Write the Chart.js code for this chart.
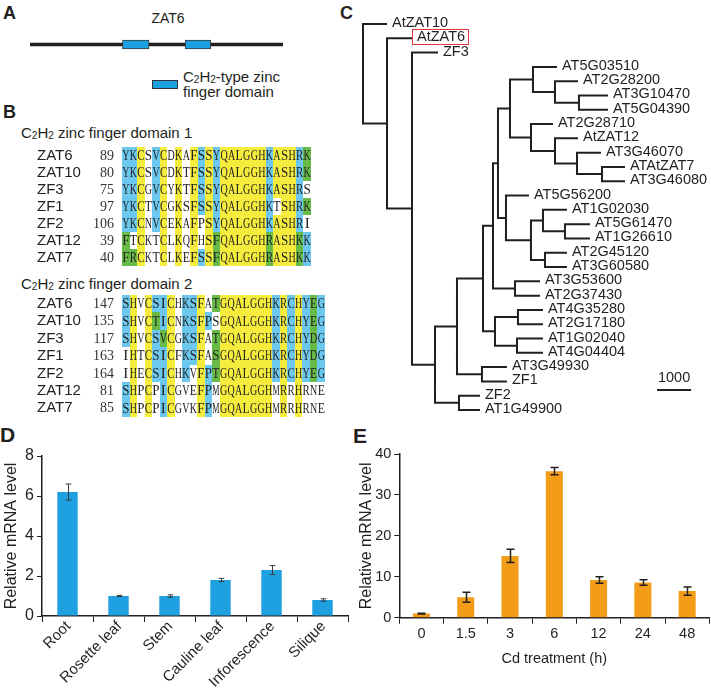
<!DOCTYPE html>
<html><head><meta charset="utf-8">
<script src="https://cdn.jsdelivr.net/npm/chart.js@4.4.0/dist/chart.umd.min.js"></script>
<style>
html,body{margin:0;padding:0;background:#fff}
body{width:711px;height:688px;position:relative;overflow:hidden;font-family:"Liberation Sans",Arial,sans-serif;color:#231f20}
canvas{position:absolute}
.t{position:absolute;line-height:1;white-space:nowrap}
.pl{position:absolute;line-height:1;font-weight:bold}
.s{font-size:10px;vertical-align:-1px}
</style></head><body>
<div class="pl" style="left:3px;top:4px;font-size:18px">A</div>
<div class="pl" style="left:3px;top:103px;font-size:18px">B</div>
<div class="pl" style="left:340px;top:4px;font-size:18px">C</div>
<div class="pl" style="left:0px;top:424px;font-size:21px">D</div>
<div class="pl" style="left:353px;top:425px;font-size:21px">E</div>

<div class="t" id="protName" style="left:130px;width:76px;text-align:center;top:11px;font-size:14px"></div>
<div class="t" style="left:152px;top:80px;width:24px;height:7px;background:#1ba1e2;border:1px solid #333"></div>
<div class="t" style="left:183px;top:69px;font-size:15px">C<span class="s">2</span>H<span class="s">2</span>-type zinc</div>
<div class="t" style="left:183px;top:84px;font-size:15px">finger domain</div>
<div class="t" style="left:21px;top:125px;font-size:15px">C<span class="s">2</span>H<span class="s">2</span> zinc finger domain 1</div>
<div class="t" style="left:21px;top:276px;font-size:15px">C<span class="s">2</span>H<span class="s">2</span> zinc finger domain 2</div>

<canvas id="cA" width="340" height="100" style="left:0;top:0"></canvas>
<canvas id="cB1" width="340" height="132" style="left:0;top:140px"></canvas>
<canvas id="cB2" width="340" height="135" style="left:0;top:288px"></canvas>
<canvas id="cC" width="371" height="430" style="left:340px;top:0"></canvas>
<canvas id="cD" width="355" height="248" style="left:0;top:440px"></canvas>
<canvas id="cE" width="356" height="248" style="left:355px;top:440px"></canvas>

<script>
// ---------------- DATA ----------------
// Panel A
const proteinName = 'ZAT6';
const proteinLength = 238;
const domainRanges = [[87, 112], [146, 170]];

// Panel B
const alignNames = ['ZAT6', 'ZAT10', 'ZF3', 'ZF1', 'ZF2', 'ZAT12', 'ZAT7'];
const domain1Start = [89, 80, 75, 97, 106, 39, 40];
const domain1Seq = [
  'YKCSVCDKAFSSYQALGGHKASHRK',
  'YKCSVCDKTFSSYQALGGHKASHRK',
  'YKCGVCYKTFSSYQALGGHKASHRS',
  'YKCTVCGKSFSSYQALGGHKTSHRK',
  'YKCNVCEKAFPSYQALGGHKASHRI',
  'FTCKTCLKQFHSFQALGGHRASHKK',
  'FRCKTCLKEFSSFQALGGHRASHKK'
];
const domain1Shade = [
  'bby.by.y.ybybyyyyyybyyybg',
  'bby.by.y.ybybyyyyyybyyybg',
  'bby.by.y.ybybyyyyyybyyyb.',
  'bby.by.y.ybybyyyyyyb.yybg',
  'bby.by.y.y.ybyyyyyybyyyb.',
  'g.y..y.y.y.ygyyyyyygyyygb',
  'ggy..y.y.ybygyyyyyygyyygb'
];
const domain2Start = [147, 135, 117, 163, 164, 81, 85];
const domain2Seq = [
  'SHVCSICHKSFATGQALGGHKRCHYEG',
  'SHVCTICNKSFPSGQALGGHKRCHYEG',
  'SHVCSVCGKSFATGQALGGHKRCHYDG',
  'IHTCSICFKSFASGQALGGHKRCHYDG',
  'IHECSICHKVFPTGQALGGHKRCHYEG',
  'SHPCPICGVEFPMGQALGGHMRRHRNE',
  'SHPCPICGVKFPMGQALGGHMRRHRNE'
];
const domain2Shade = [
  'by.ybby.bby.gyyyyyyybybybgb',
  'by.ygby.bbyb.yyyyyyybybybgb',
  'by.ybgy.bby.gyyyyyyybybybgb',
  '.y.ybby.bby.gyyyyyyybybybgb',
  '.y.ybby.b.ybgyyyyyyybybybgb',
  'by.y.by...yb.yyyyyyy.y.y...',
  'by.y.by...yb.yyyyyyy.y.y...'
];

// Panel C: tree as [payload, branchLength]; payload = leaf name or [child, child]
const treeData = [[
  ['AtZAT10', 706],
  [[
    ['AtZAT6', 735],
    [[
      ['ZF3', 765],
      [[
        [[
          [[
            [[
              [[
                [[
                  [[ ['AT5G03510', 706], [[ ['AT2G28200', 676], [[ ['AT3G10470', 853], ['AT5G04390', 853] ], 706] ], 647] ], 676],
                  [[ ['AT2G28710', 647], [[ ['AtZAT12', 676], [[ ['AT3G46070', 706], [[ ['ATAtZAT7', 676], ['AT3G46080', 676] ], 735] ], 647] ], 706] ], 618]
                ], 353],
                [[ ['AT5G56200', 676], [[ [[ ['AT1G02030', 706], [[ ['AT5G61470', 735], ['AT1G26610', 735] ], 647] ], 353], [[ ['AT2G45120', 647], ['AT3G60580', 647] ], 412] ], 735] ], 235]
              ], 147],
              [[ ['AT3G53600', 735], ['AT2G37430', 735] ], 647]
            ], 294],
            [[ [[ ['AT4G35280', 735], ['AT2G17180', 735] ], 676], [[ ['AT1G02040', 765], ['AT4G04404', 765] ], 647] ], 353]
          ], 765],
          [[ ['AT3G49930', 735], ['ZF1', 735] ], 735]
        ], 647],
        [[ ['ZF2', 618], ['AT1G49900', 618] ], 706]
      ], 676]
    ], 735]
  ], 706]
], 0];
const highlightedLeaf = 'AtZAT6';
const scaleBarLength = 1000;
const scaleBarLabel = '1000';

// Panel D
const tissueLabels = ['Root', 'Rosette leaf', 'Stem', 'Cauline leaf', 'Inforescence', 'Silique'];
const tissueMeans = [6.2, 1.0, 1.0, 1.8, 2.3, 0.8];
const tissueErrors = [0.4, 0.03, 0.06, 0.08, 0.22, 0.06];
const tissueTicks = [0, 2, 4, 6, 8];

// Panel E
const cdTimes = ['0', '1.5', '3', '6', '12', '24', '48'];
const cdMeans = [1.0, 5.0, 15.1, 35.8, 9.2, 8.6, 6.5];
const cdErrors = [0.1, 1.2, 1.6, 0.9, 0.8, 0.65, 1.0];
const cdTicks = [0, 10, 20, 30, 40];

// ---------------- STYLE / SETUP ----------------
const INK = '#231f20';
const FONT = '"Liberation Sans", Arial, sans-serif';
Chart.defaults.font.family = FONT;
Chart.defaults.color = INK;
Chart.defaults.animation = false;
Chart.defaults.plugins.legend.display = false;
Chart.defaults.plugins.tooltip.enabled = false;
const base = {responsive: false, devicePixelRatio: 1, animation: false, events: []};

document.getElementById('protName').textContent = proteinName;

// ---- Panel A ----
new Chart(document.getElementById('cA'), {
  type: 'bar',
  data: {
    labels: [proteinName],
    datasets: [
      {data: [domainRanges[0]], backgroundColor: '#1ba1e2', borderColor: '#3a3a3a', borderWidth: 1, borderSkipped: false, barThickness: 9, grouped: false, order: 0},
      {data: [domainRanges[1]], backgroundColor: '#1ba1e2', borderColor: '#3a3a3a', borderWidth: 1, borderSkipped: false, barThickness: 9, grouped: false, order: 0},
      {data: [[0, proteinLength]], backgroundColor: INK, borderWidth: 0, barThickness: 2.6, grouped: false, order: 1}
    ]
  },
  options: Object.assign({}, base, {
    indexAxis: 'y',
    layout: {padding: {left: 30, right: 57, top: 35, bottom: 46}},
    scales: {x: {display: false, min: 0, max: proteinLength}, y: {display: false}}
  })
});

// ---- Panel B ----
const SHADE = {b: '#6cc8ee', y: '#f5ec3e', g: '#69bb47'};
function alignChart(id, seqs, shades, starts, pad) {
  const nCols = seqs[0].length;
  return new Chart(document.getElementById(id), {
    type: 'scatter',
    data: {datasets: [{data: []}]},
    options: Object.assign({}, base, {
      layout: {padding: pad},
      scales: {
        x: {display: false, min: -0.5, max: nCols - 0.5},
        y: {display: false, min: -0.5, max: seqs.length - 0.5, reverse: true}
      }
    }),
    plugins: [{
      id: 'alignment',
      afterDatasetsDraw(chart) {
        const ctx = chart.ctx, xs = chart.scales.x, ys = chart.scales.y;
        ctx.save();
        seqs.forEach((seq, r) => {
          const y0 = Math.round(ys.getPixelForValue(r - 0.5)), y1 = Math.round(ys.getPixelForValue(r + 0.5));
          for (let c = 0; c < seq.length; c++) {
            const col = SHADE[shades[r][c]];
            if (!col) continue;
            const x0 = Math.round(xs.getPixelForValue(c - 0.5)), x1 = Math.round(xs.getPixelForValue(c + 0.5));
            ctx.fillStyle = col;
            ctx.fillRect(x0, y0, x1 - x0, y1 - y0);
          }
        });
        ctx.fillStyle = '#222';
        ctx.textBaseline = 'middle';
        ctx.textAlign = 'center';
        ctx.font = '15px "Liberation Serif", "Times New Roman", serif';
        const cw = xs.getPixelForValue(1) - xs.getPixelForValue(0);
        seqs.forEach((seq, r) => {
          const y = ys.getPixelForValue(r) + 0.5;
          for (let c = 0; c < seq.length; c++) {
            const ch = seq[c];
            const w = ctx.measureText(ch).width;
            const sx = Math.min(1, (cw - 0.3) / w);
            ctx.save();
            ctx.translate(xs.getPixelForValue(c), y);
            ctx.scale(sx, 1);
            ctx.fillText(ch, 0, 0);
            ctx.restore();
          }
        });
        ctx.fillStyle = INK;
        ctx.textAlign = 'left';
        ctx.font = '15px ' + FONT;
        alignNames.forEach((n, r) => ctx.fillText(n, 37, ys.getPixelForValue(r)));
        ctx.textAlign = 'right';
        ctx.font = '14px "Liberation Serif", "Times New Roman", serif';
        ctx.fillStyle = '#333';
        starts.forEach((s, r) => ctx.fillText(String(s), 114, ys.getPixelForValue(r) + 0.5));
        ctx.restore();
      }
    }]
  });
}
alignChart('cB1', domain1Seq, domain1Shade, domain1Start, {left: 122, right: 29, top: 7, bottom: 6});
alignChart('cB2', domain2Seq, domain2Shade, domain2Start, {left: 122, right: 15, top: 7, bottom: 6});

// ---- Panel C (tree) ----
const leaves = [];
function layout(node, depth) {
  const payload = node[0];
  const x = depth + node[1];
  if (typeof payload === 'string') {
    const leaf = {name: payload, x: x, y: leaves.length, leaf: true};
    leaves.push(leaf);
    return leaf;
  }
  const kids = payload.map(k => layout(k, x));
  return {x: x, y: (kids[0].y + kids[kids.length - 1].y) / 2, kids: kids};
}
const treeRoot = layout(treeData, 0);
const branchPts = [];
(function walk(n) {
  if (!n.kids) return;
  const a = n.kids[0], b = n.kids[n.kids.length - 1];
  branchPts.push({x: a.x, y: a.y}, {x: n.x, y: a.y}, {x: n.x, y: b.y}, {x: b.x, y: b.y}, {x: null, y: null});
  n.kids.forEach(walk);
})(treeRoot);
const SB_X = 8650, SB_Y = 25.6;
new Chart(document.getElementById('cC'), {
  type: 'scatter',
  data: {datasets: [
    {data: branchPts, showLine: true, spanGaps: false, borderColor: INK, borderWidth: 2, pointRadius: 0, borderJoinStyle: 'miter', borderCapStyle: 'butt', clip: false},
    {data: [{x: SB_X, y: SB_Y}, {x: SB_X + scaleBarLength, y: SB_Y}], showLine: true, borderColor: INK, borderWidth: 2, pointRadius: 0, clip: false}
  ]},
  options: Object.assign({}, base, {
    layout: {padding: {left: 23, right: 8, top: 24, bottom: 20}},
    scales: {x: {display: false, min: 0, max: 10000}, y: {display: false, min: 0, max: leaves.length - 1, reverse: true}}
  }),
  plugins: [{
    id: 'leafLabels',
    afterDatasetsDraw(chart) {
      const ctx = chart.ctx, xs = chart.scales.x, ys = chart.scales.y;
      ctx.save();
      ctx.font = '14.5px ' + FONT;
      ctx.fillStyle = INK;
      ctx.textBaseline = 'middle';
      ctx.textAlign = 'left';
      leaves.forEach(l => {
        const px = xs.getPixelForValue(l.x) + 5, py = ys.getPixelForValue(l.y) - 1;
        ctx.fillText(l.name, px, py);
        if (l.name === highlightedLeaf) {
          const w = ctx.measureText(l.name).width;
          ctx.strokeStyle = '#e3343a';
          ctx.lineWidth = 1;
          ctx.strokeRect(Math.round(px - 5) + 0.5, Math.round(py - 8) + 0.5, Math.round(w + 8), 15);
        }
      });
      ctx.textAlign = 'center';
      ctx.fillText(scaleBarLabel, xs.getPixelForValue(SB_X + scaleBarLength / 2), ys.getPixelForValue(SB_Y) - 12);
      ctx.restore();
    }
  }]
});

// ---- Panels D & E ----
const errorBars = {
  id: 'errorBars',
  afterDatasetsDraw(chart, args, o) {
    const ctx = chart.ctx, ys = chart.scales.y;
    const meta = chart.getDatasetMeta(0), vals = chart.data.datasets[0].data;
    ctx.save();
    ctx.strokeStyle = o.color; ctx.lineWidth = o.width;
    meta.data.forEach((bar, i) => {
      const x = Math.round(bar.x) + 0.5;
      const t = ys.getPixelForValue(vals[i] + o.errors[i]), b = ys.getPixelForValue(vals[i] - o.errors[i]);
      ctx.beginPath();
      ctx.moveTo(x, t); ctx.lineTo(x, b);
      ctx.moveTo(x - o.cap, t); ctx.lineTo(x + o.cap, t);
      ctx.moveTo(x - o.cap, b); ctx.lineTo(x + o.cap, b);
      ctx.stroke();
    });
    ctx.restore();
  }
};
const rotatedLabels = {
  id: 'rotatedLabels',
  afterDraw(chart, args, o) {
    if (!o || !o.on) return;
    const xs = chart.scales.x, ctx = chart.ctx;
    ctx.save();
    ctx.font = o.size + 'px ' + FONT;
    ctx.fillStyle = INK;
    ctx.textAlign = 'right';
    ctx.textBaseline = 'middle';
    chart.data.labels.forEach((lab, i) => {
      ctx.save();
      ctx.translate(xs.getPixelForTick(i) + o.dx, xs.top + o.dy);
      ctx.rotate(-Math.PI / 4);
      ctx.fillText(lab, 0, 0);
      ctx.restore();
    });
    ctx.restore();
  }
};
function barChart(id, labels, values, errs, ticks, color, cfg) {
  return new Chart(document.getElementById(id), {
    type: 'bar',
    data: {labels: labels, datasets: [{data: values, backgroundColor: color, categoryPercentage: 1, barPercentage: cfg.barPct}]},
    options: Object.assign({}, base, {
      layout: {padding: cfg.pad},
      plugins: {
        errorBars: {errors: errs, color: cfg.errColor, width: cfg.errWidth, cap: cfg.cap},
        rotatedLabels: cfg.rot
      },
      scales: {
        x: {
          grid: {display: true, drawOnChartArea: false, drawTicks: true, tickLength: 6, color: INK, offset: true},
          border: {display: true, color: INK, width: 1.5},
          ticks: {display: !cfg.rot.on, autoSkip: false, maxRotation: 0, minRotation: 0, color: INK, font: {size: cfg.xFont}, padding: 2},
          title: cfg.xTitle,
          afterFit: s => { s.height = cfg.xH; s.paddingLeft = 0; s.paddingRight = 0; }
        },
        y: {
          min: ticks[0], max: ticks[ticks.length - 1],
          afterBuildTicks: s => { s.ticks = ticks.map(v => ({value: v})); },
          grid: {display: true, drawOnChartArea: false, drawTicks: true, tickLength: 5, color: INK},
          border: {display: true, color: INK, width: 1.5},
          ticks: {color: INK, font: {size: cfg.yFont}, padding: 3},
          title: {display: true, text: 'Relative mRNA level', color: INK, font: {size: 16}, padding: {top: 2, bottom: 0}},
          afterFit: s => { s.width = cfg.yW; s.paddingTop = 0; s.paddingBottom = 0; }
        }
      }
    }),
    plugins: [errorBars, rotatedLabels]
  });
}
barChart('cD', tissueLabels, tissueMeans, tissueErrors, tissueTicks, '#1ea0e1', {
  barPct: 0.4, pad: {left: 0, right: 7, top: 16, bottom: 0}, xH: 72, yW: 42,
  xFont: 16, yFont: 16, rot: {on: true, size: 15, dx: 1, dy: 8},
  xTitle: {display: false}, errColor: '#3a3a3a', errWidth: 1, cap: 2.8
});
barChart('cE', cdTimes, cdMeans, cdErrors, cdTicks, '#f39c18', {
  barPct: 0.385, pad: {left: 0, right: 1.7, top: 14, bottom: 0}, xH: 70.3, yW: 44.3,
  xFont: 14.5, yFont: 14.5, rot: {on: false},
  xTitle: {display: true, text: 'Cd treatment (h)', color: INK, font: {size: 14.5}, padding: {top: 0, bottom: 20}},
  errColor: '#231f20', errWidth: 1.5, cap: 4
});
</script>
</body></html>
